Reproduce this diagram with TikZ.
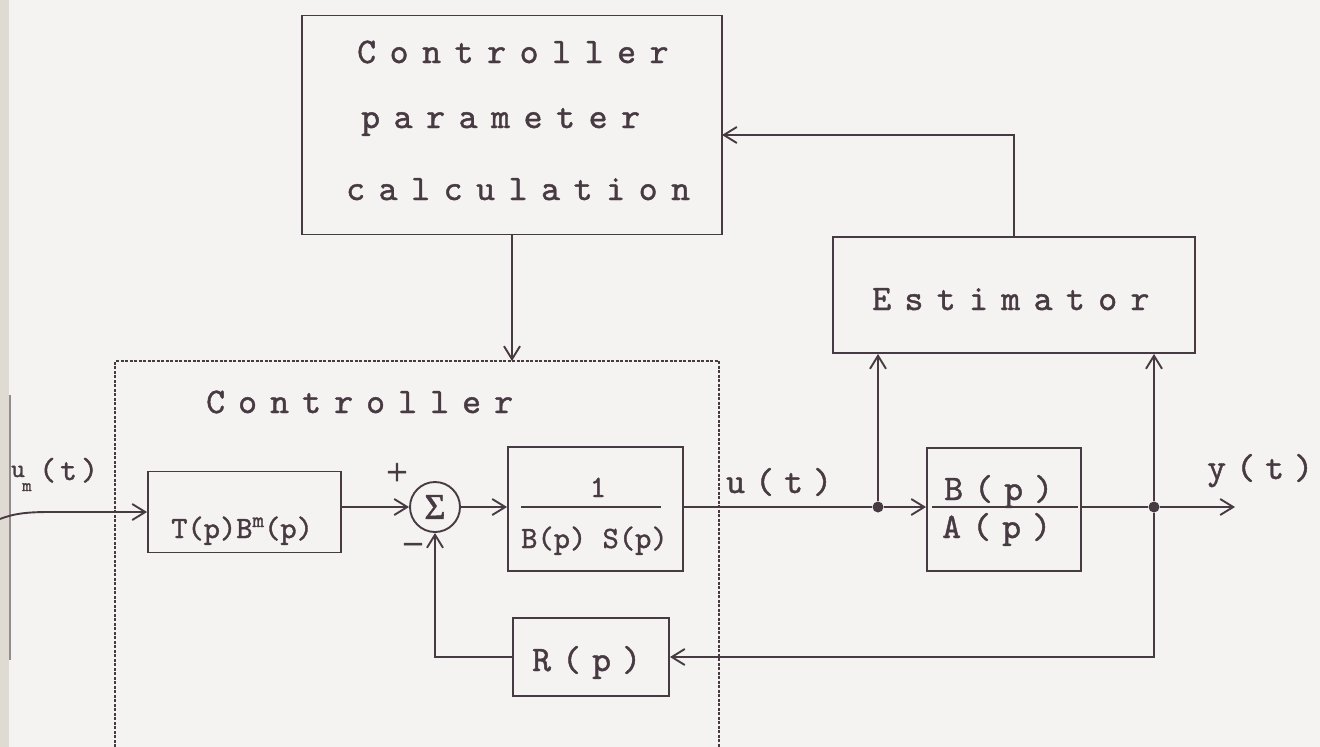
\documentclass[tikz,border=0pt]{standalone}
\usepackage{fontspec}
\usetikzlibrary{arrows.meta,calc}
\newfontfamily\typew{lmmono10-regular.otf}[FakeBold=1.2]
\newfontfamily\symfont{Liberation Serif}[FakeBold=1.5]
\definecolor{ink}{RGB}{72,58,66}
\definecolor{paper}{RGB}{244,243,241}
\definecolor{edgestrip}{RGB}{224,219,210}
\definecolor{edgeline}{RGB}{150,140,140}
\makeatletter
\newcommand\spacedtext[2]{\def\sp@w{#1}\sp@loop#2\@nil}
\def\sp@loop#1{\ifx#1\@nil\else\makebox[\sp@w][l]{#1}\expandafter\sp@loop\fi}
\makeatother
\newcommand\bigtt{\fontsize{36}{38}\selectfont\typew}
\newcommand\midtt{\fontsize{31}{33}\selectfont\typew}
\tikzset{
  inkline/.style={draw=ink, line width=1.9pt},
  arr/.style={inkline, -{Straight Barb[length=13pt,width=16pt]}},
  blockbox/.style={inkline, rectangle, inner sep=0pt},
  lbl/.style={text=ink, inner sep=0pt, anchor=base west, font=\bigtt},
  junction/.style={circle, fill=ink, inner sep=0pt, minimum size=11pt},
  ctrlline/.style={draw=ink, line width=1.5pt, dash pattern=on 3pt off 1.5pt},
}
\begin{document}
\begin{tikzpicture}[x=1pt,y=-1pt]
\useasboundingbox (0,0) rectangle (1320,747);
\fill[paper] (0,0) rectangle (1320,747);
\fill[edgestrip] (0,0) rectangle (9,747);
\draw[edgeline, line width=1.5pt] (10,395) -- (10,660);

% blocks
\node[blockbox, minimum width=420pt, minimum height=219pt] (cpc) at (512,125) {};
\node[blockbox, minimum width=362pt, minimum height=116pt] (est) at (1014,295) {};
\node[blockbox, minimum width=193pt, minimum height=81pt] (T) at (244.5,512) {};
\node[inkline, circle, inner sep=0pt, minimum size=50pt, text=ink, font=\fontsize{36}{36}\selectfont\symfont] (S) at (435,507) {Σ};
\node[blockbox, minimum width=175pt, minimum height=124pt] (G) at (595.5,509) {};
\node[blockbox, minimum width=154pt, minimum height=123pt] (P) at (1004,509.5) {};
\node[blockbox, minimum width=156pt, minimum height=78pt] (R) at (591,657) {};
\node[junction] (d1) at (878,507) {};
\node[junction] (d2) at (1154,507) {};

% controller frame (dotted)
\coordinate (cbl) at (115,747);
\coordinate (ctl) at (115,361);
\coordinate (ctr) at (719,361);
\coordinate (cbr) at (719,747);
\draw[ctrlline] (cbl) -- (ctl) -- (ctr) -- (cbr);
\coordinate (ctop) at (512,361);

% texts
\node[lbl] (cpc1) at (357,63) {\spacedtext{32.5pt}{Controller}};
\node[lbl] (cpc2) at (361,128) {\spacedtext{32.5pt}{parameter}};
\node[lbl] (cpc3) at (346,200) {\spacedtext{32.5pt}{calculation}};
\node[lbl] (estl) at (872,310) {\spacedtext{32.3pt}{Estimator}};
\node[lbl] (ctrll) at (206,413) {\spacedtext{32pt}{Controller}};
\node[lbl] (ul) at (726,493) {\spacedtext{29pt}{u(t)}};
\node[lbl] (yl) at (1207,479) {\spacedtext{29pt}{y(t)}};
\node[lbl] (rl) at (532,671) {\spacedtext{30pt}{R(p)}};
\node[lbl] (bl) at (944,500) {\spacedtext{30pt}{B(p)}};
\node[lbl] (al) at (942,538) {\spacedtext{30pt}{A(p)}};
\node[lbl, font=\fontsize{26}{28}\selectfont\typew] (uml) at (11,477) {u};
\node[lbl, font=\fontsize{18}{20}\selectfont\typew] (ums) at (22,491) {m};
\node[lbl, font=\fontsize{32}{34}\selectfont\typew] (umt) at (39,480) {\spacedtext{21pt}{(t)}};
\node[lbl, font=\midtt] (tl) at (171,538) {T(p)B\raisebox{11pt}{\fontsize{22}{22}\selectfont\typew m}(p)};
\node[text=ink, inner sep=0pt, anchor=base, font=\midtt] (gn) at (598,497) {1};
\node[lbl, font=\midtt] (gd) at (521,548) {B(p) S(p)};
\node[text=ink, inner sep=0pt, font=\fontsize{38}{38}\selectfont\symfont] (plus) at (397,474) {+};
\node[text=ink, inner sep=0pt, font=\fontsize{38}{38}\selectfont\symfont] (minus) at (413,550) {−};

% fraction lines
\draw[inkline] (521,507) -- (661,507);
\draw[inkline] ([xshift=6pt]P.west |- d1) -- ([xshift=-4pt]P.east |- d1);

% connectors
\coordinate (in) at (0,519);
\coordinate (fb) at (722,135);
\coordinate (out) at (1235,507);
\draw[arr] (cpc.south) -- (ctop);
\draw[arr] (est.north) |- (fb);
\draw[arr] (in) .. controls (15,513) and (30,512) .. (50,512) -- (T.west);
\draw[arr] (T.east |- S.west) -- (S.west);
\draw[arr] (S.east) -- (G.west |- S.east);
\draw[inkline] (G.east |- d1) -- (d1);
\draw[arr] (d1) -- (P.west |- d1);
\draw[inkline] (P.east |- d2) -- (d2);
\draw[arr] (d2) -- (out);
\draw[arr] (d1) -- (d1 |- est.south);
\draw[arr] (d2) -- (d2 |- est.south);
\draw[arr] (d2) |- (R.east);
\draw[arr] (R.west) -| (S.south);
\end{tikzpicture}
\end{document}
